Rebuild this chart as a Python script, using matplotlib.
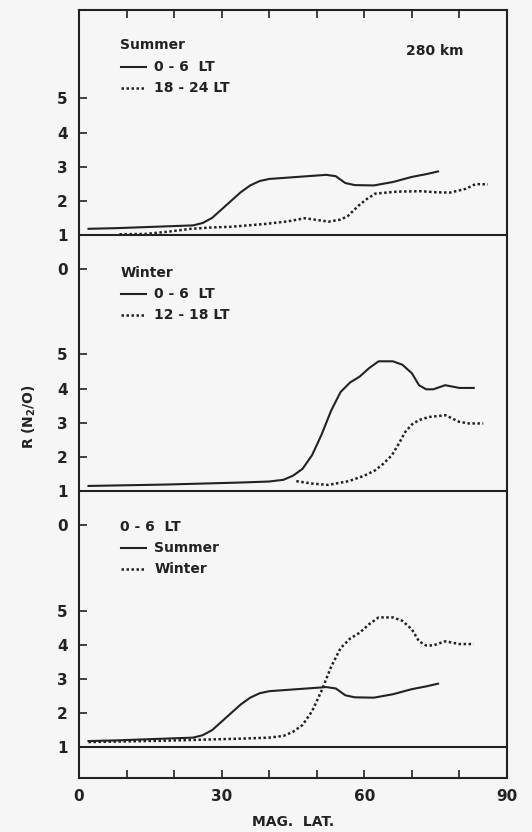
import matplotlib.pyplot as plt
import numpy as np

# Summer 0-6 LT (also the solid line of the bottom panel)
summer_lat = [2, 8, 14, 20, 24, 26, 28, 30, 32, 34, 36, 38, 40, 44, 48, 52, 54, 56, 58, 62, 66, 70, 73, 75.5]
summer_r = [1.18, 1.2, 1.23, 1.26, 1.28, 1.35, 1.5, 1.75, 2.0, 2.25, 2.45, 2.58, 2.64, 2.68, 2.72, 2.76,
            2.72, 2.52, 2.46, 2.45, 2.55, 2.7, 2.78, 2.86]

# Summer 18-24 LT
summer_eve_lat = [8.5, 14, 19, 23.5, 28, 32, 39, 44, 47.5, 50, 52.5, 55, 56.5, 58.8, 60.5, 62.3, 67, 72,
                  75, 78, 81.3, 83.4, 86]
summer_eve_r = [1.02, 1.03, 1.1, 1.18, 1.22, 1.24, 1.32, 1.4, 1.49, 1.44, 1.39, 1.45, 1.55, 1.86, 2.05,
                2.21, 2.27, 2.28, 2.25, 2.24, 2.35, 2.49, 2.48]

# Winter 0-6 LT (also the dotted line of the bottom panel)
winter_lat = [2, 10, 18, 26, 34, 40, 43, 45, 47, 49, 51, 53, 55, 57, 59, 61, 63, 66, 68, 70, 71.5, 73,
              74.5, 77, 80, 83]
winter_r = [1.15, 1.17, 1.19, 1.22, 1.25, 1.28, 1.33, 1.45, 1.65, 2.05, 2.65, 3.35, 3.9, 4.18, 4.35, 4.6,
            4.8, 4.8, 4.7, 4.45, 4.1, 3.98, 3.98, 4.1, 4.02, 4.02]

# Winter 12-18 LT
winter_day_lat = [45.7, 49, 52.4, 56.7, 60, 62.3, 64, 65.8, 67.3, 68.6, 70, 71.5, 73.6, 77.1, 79.9, 82, 85]
winter_day_r = [1.29, 1.22, 1.18, 1.29, 1.45, 1.61, 1.8, 2.05, 2.4, 2.73, 2.95, 3.08, 3.17, 3.22, 3.03,
                2.98, 2.98]

yticks = [1, 2, 3, 4, 5]
panel_yticks = [0, 1, 2, 3, 4, 5]
offsets = [15.0, 7.5, 0.0]  # top, middle, bottom panel

ink = '#222222'
plt.rcParams['font.family'] = ['DejaVu Sans']
plt.rcParams['font.weight'] = 'bold'
plt.rcParams['axes.labelweight'] = 'bold'
plt.rcParams['mathtext.default'] = 'bf'

fig = plt.figure(figsize=(5.32, 8.32), dpi=100)
fig.patch.set_facecolor('#f6f6f6')
ax = fig.add_axes([0.1485, 0.065, 0.8045, 0.9235])
ax.set_facecolor('#f6f6f6')

dot = (0, (1, 1))


def draw(lat, r, off, dotted=False):
    ax.plot(lat, np.array(r) + off, color=ink, lw=1.8 if dotted else 1.5,
            linestyle=dot if dotted else '-')


# top panel
draw(summer_lat, summer_r, offsets[0])
draw(summer_eve_lat, summer_eve_r, offsets[0], True)
# middle panel
draw(winter_lat, winter_r, offsets[1])
draw(winter_day_lat, winter_day_r, offsets[1], True)
# bottom panel
draw(winter_lat, winter_r, offsets[2], True)
draw(summer_lat, summer_r, offsets[2])

for off in offsets:
    ax.axhline(1 + off, color=ink, lw=1.5)

ax.set_xlim(0, 90)
ax.set_ylim(0.1, 22.6)

ticks = [t + offsets[2] for t in yticks] + [t + offsets[1] for t in panel_yticks] + \
        [t + offsets[0] for t in panel_yticks]
labels = [str(t) for t in yticks] + [str(t) for t in panel_yticks] * 2
ax.set_yticks(ticks)
ax.set_yticklabels(labels)
ax.set_xticks(np.arange(0, 91, 10))
ax.set_xticklabels(['0' if v == 0 else (str(v) if v % 30 == 0 else '') for v in range(0, 91, 10)])
ax.tick_params(direction='in', length=6, width=1.2, colors=ink, labelsize=11, pad=8,
               top=True, bottom=True, left=True, right=False)
for s in ax.spines.values():
    s.set_linewidth(1.5)
    s.set_color(ink)

ax.set_xlabel('MAG.  LAT.', fontsize=10, color=ink, labelpad=8)
ax.set_ylabel('R (N$_2$/O)', fontsize=10, color=ink)
ax.yaxis.set_label_coords(-0.095, 0.47)

# legend blocks
def block(title, entries, y0):
    ax.text(8.7, y0, title, fontsize=10, color=ink, va='center')
    for i, (name, dotted) in enumerate(entries):
        yy = y0 - 0.62 * (i + 1)
        ax.plot([8.8, 14], [yy, yy], color=ink, lw=1.8 if dotted else 1.5,
                linestyle=dot if dotted else '-')
        ax.text(15.8, yy, name, fontsize=10, color=ink, va='center')


block('Summer', [('0 - 6  LT', False), ('18 - 24 LT', True)], 21.55)
block('Winter', [('0 - 6  LT', False), ('12 - 18 LT', True)], 14.9)
block('0 - 6  LT', [('Summer', False), ('Winter', True)], 7.45)
ax.text(74.8, 21.4, '280 km', fontsize=10, color=ink, ha='center', va='center')

fig.savefig('out.png', dpi=100, facecolor=fig.get_facecolor())
